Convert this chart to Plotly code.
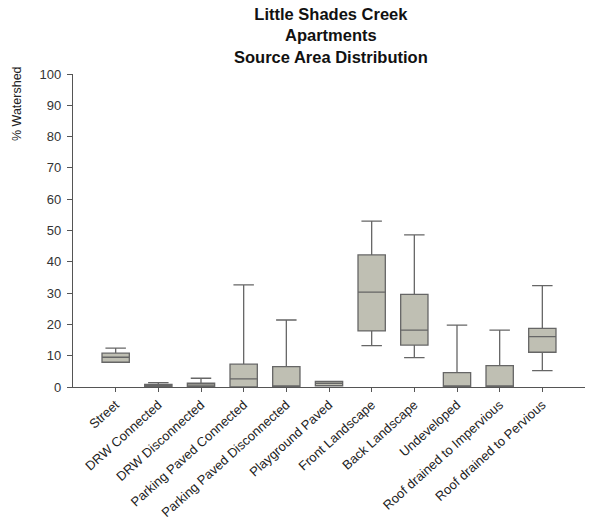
import plotly.graph_objects as go

categories = ["Street", "DRW Connected", "DRW Disconnected", "Parking Paved Connected",
              "Parking Paved Disconnected", "Playground Paved", "Front Landscape",
              "Back Landscape", "Undeveloped", "Roof drained to Impervious",
              "Roof drained to Pervious"]
lower = [7.9, 0.0, 0.1, 0.0, 0.0, 0.4, 13.2, 9.4, 0.0, 0.0, 5.2]
q1 = [7.9, 0.0, 0.1, 0.0, 0.0, 0.4, 17.9, 13.4, 0.0, 0.0, 11.1]
median = [9.5, 0.3, 0.6, 2.6, 0.0, 1.2, 30.3, 18.2, 0.0, 0.0, 16.1]
q3 = [10.8, 0.8, 1.2, 7.3, 6.5, 1.8, 42.2, 29.6, 4.6, 6.8, 18.7]
upper = [12.4, 1.4, 2.8, 32.6, 21.4, 1.8, 53.0, 48.6, 19.8, 18.2, 32.4]
yticks = [0, 10, 20, 30, 40, 50, 60, 70, 80, 90, 100]
title_lines = ["Little Shades Creek", "Apartments", "Source Area Distribution"]

fig = go.Figure(go.Box(
    x=categories, q1=q1, median=median, q3=q3,
    lowerfence=lower, upperfence=upper,
    fillcolor="#bfbfb3", line=dict(color="#666666", width=1.3),
    width=0.64, whiskerwidth=0.75, boxpoints=False, showlegend=False,
))

annotations = [
    dict(text="<b>" + "<br>".join(title_lines) + "</b>", xref="paper", yref="paper",
         x=(331 - 73) / 512, y=(387 - 3) / 313, xanchor="center", yanchor="top",
         showarrow=False, font=dict(size=16.5, color="#111111")),
    dict(text="% Watershed", textangle=-90, xref="paper", yref="paper",
         x=(17 - 73) / 512, y=(387 - 104) / 313, xanchor="center",
         yanchor="middle", showarrow=False, font=dict(size=12.5, color="#222222")),
]

fig.update_layout(
    width=589, height=520,
    margin=dict(l=73, r=4, t=74, b=133),
    paper_bgcolor="white", plot_bgcolor="white",
    font=dict(family="Arial, Liberation Sans", size=12, color="#333333"),
    xaxis=dict(range=[-1, 11], showline=True, linecolor="#555555", linewidth=1.3,
               ticks="outside", ticklen=4, tickcolor="#555555", tickangle=-42,
               automargin=False,
               showgrid=False, zeroline=False, tickfont=dict(size=13, color="#222222")),
    yaxis=dict(range=[0, 100], tickvals=yticks, showline=True, linecolor="#555555",
               linewidth=1.3, ticks="outside", ticklen=5, tickcolor="#555555",
               ticklabelstandoff=3, automargin=False,
               showgrid=False, zeroline=False, tickfont=dict(size=13, color="#333333")),
    annotations=annotations,
)

fig.write_html("out.html")
